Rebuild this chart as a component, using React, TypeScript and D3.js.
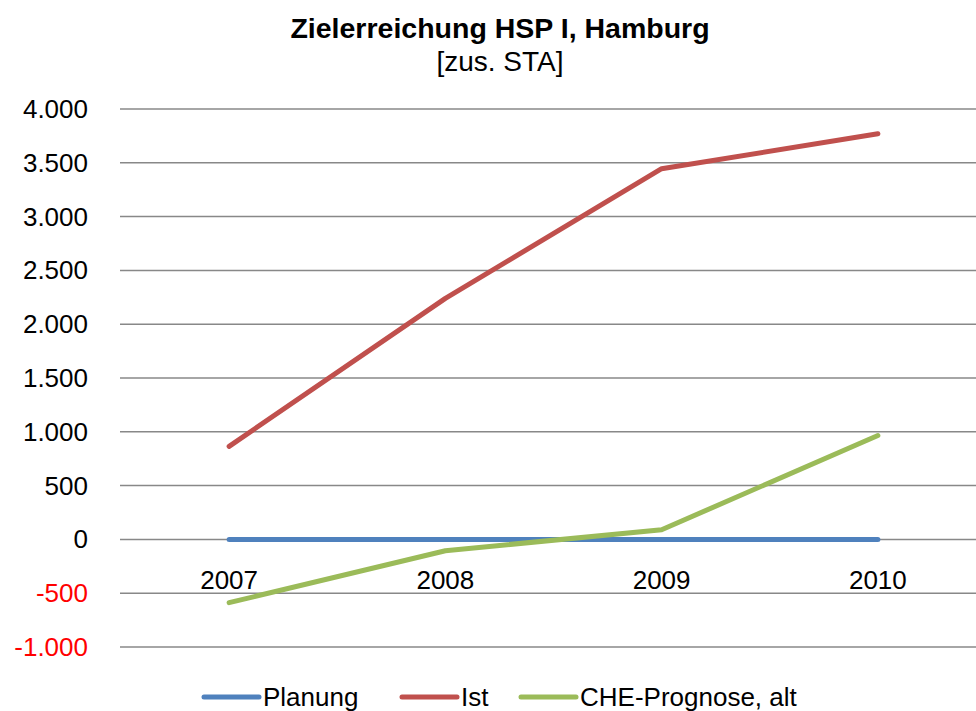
import React from "react";
import * as d3 from "d3";

const categories = ["2007", "2008", "2009", "2010"];
const planung = [0, 0, 0, 0];
const ist = [865, 2240, 3445, 3770];
const cheAlt = [-588, -105, 90, 965];
const yTicks = [-1000, -500, 0, 500, 1000, 1500, 2000, 2500, 3000, 3500, 4000];
const seriesNames = ["Planung", "Ist", "CHE-Prognose, alt"];
const seriesColors = ["#4F81BD", "#C0504D", "#9BBB59"];

const W = 976;
const H = 711;
const FONT = "'Liberation Sans', Arial, sans-serif";

export default function App() {
  const x = d3.scaleBand<string>().domain(categories).range([121, 986]);
  const y = d3.scaleLinear().domain([-1000, 4000]).range([647, 109]);
  const fmt = (v: number) =>
    d3.format(",")(v).replace(/,/g, ".").replace(/\u2212/g, "-");
  const line = d3
    .line<number>()
    .x((_, i) => (x(categories[i]) as number) + x.bandwidth() / 2)
    .y((d) => y(d));
  const series = [planung, ist, cheAlt];
  const legendX = [204, 402, 521];

  return (
    <svg
      width={W}
      height={H}
      style={{ position: "absolute", left: 0, top: 0, background: "#fff" }}
      fontFamily={FONT}
    >
      <text x={500} y={38} textAnchor="middle" fontSize={28.5} fontWeight="bold" fill="#000">
        Zielerreichung HSP I, Hamburg
      </text>
      <text x={500} y={71} textAnchor="middle" fontSize={28} fill="#000">
        [zus. STA]
      </text>
      {yTicks.map((t) => (
        <g key={t}>
          <line x1={120} x2={W} y1={y(t)} y2={y(t)} stroke="#888" strokeWidth={1.5} />
          <text
            x={88}
            y={y(t) + 9}
            textAnchor="end"
            fontSize={26}
            fill={t < 0 ? "#FF0000" : "#000"}
          >
            {fmt(t)}
          </text>
        </g>
      ))}
      {categories.map((c) => (
        <text
          key={c}
          x={(x(c) as number) + x.bandwidth() / 2}
          y={y(0) + 50}
          textAnchor="middle"
          fontSize={26}
          fill="#000"
        >
          {c}
        </text>
      ))}
      {series.map((s, i) => (
        <path
          key={i}
          d={line(s) as string}
          fill="none"
          stroke={seriesColors[i]}
          strokeWidth={5}
          strokeLinecap="round"
          strokeLinejoin="round"
        />
      ))}
      {seriesNames.map((n, i) => (
        <g key={n}>
          <line
            x1={legendX[i]}
            x2={legendX[i] + 55}
            y1={697}
            y2={697}
            stroke={seriesColors[i]}
            strokeWidth={5}
            strokeLinecap="round"
          />
          <text x={legendX[i] + 59} y={706} fontSize={26} fill="#000">
            {n}
          </text>
        </g>
      ))}
    </svg>
  );
}
